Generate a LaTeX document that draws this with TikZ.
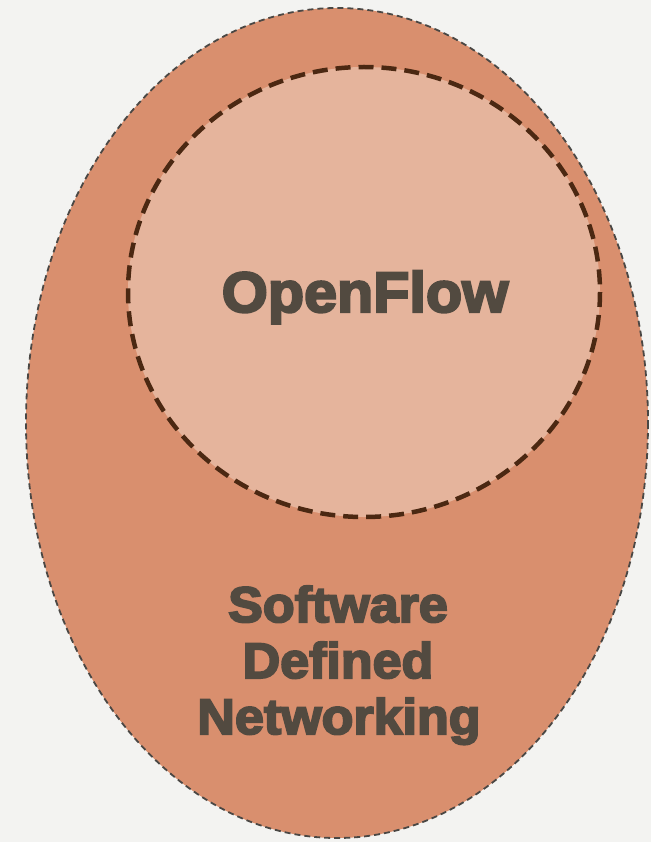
\documentclass[tikz,border=0pt]{standalone}
\usepackage{fontspec}
\newfontfamily\lblfont[FakeStretch=1.04,FakeBold=4]{Liberation Sans Bold}
\definecolor{bgcol}{HTML}{F3F3F1}
\definecolor{outerfill}{HTML}{D98F6E}
\definecolor{innerfill}{HTML}{E5B49C}
\definecolor{outerline}{HTML}{4A4744}
\definecolor{innerline}{HTML}{4B2812}
\definecolor{txtcol}{HTML}{524A40}
\tikzset{
  outerset/.style={fill=outerfill, draw=outerline, line width=1.8pt, dash pattern=on 6pt off 4pt},
  innerset/.style={fill=innerfill, draw=innerline, line width=4.5pt, dash pattern=on 15pt off 8pt},
  bigtxt/.style={text=txtcol, font=\lblfont\fontsize{57}{62}\selectfont, inner sep=0pt, anchor=base},
  sdntxt/.style={text=txtcol, font=\lblfont\fontsize{50}{56}\selectfont, inner sep=0pt, anchor=base}
}
\begin{document}
\begin{tikzpicture}[x=1pt,y=-1pt]
\useasboundingbox (0,0) rectangle (651,842);
\fill[bgcol] (0,0) rectangle (651,842);
\path[outerset] (337,423) ellipse [x radius=311, y radius=415];
\path[innerset] (364,292) ellipse [x radius=236, y radius=225];
\node[bigtxt] (of) at (365,312) {OpenFlow};
\node[sdntxt] (sdn1) at (338,622) {Software};
\node[sdntxt] (sdn2) at (338,678) {Defined};
\node[sdntxt] (sdn3) at (339,734) {Networking};
\end{tikzpicture}
\end{document}
